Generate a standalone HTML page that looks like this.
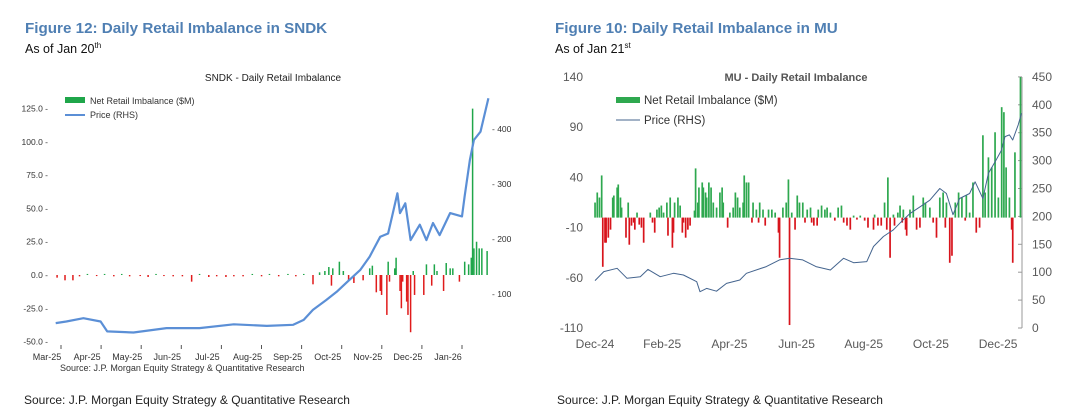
<!DOCTYPE html>
<html><head><meta charset="utf-8"><style>
body{margin:0;background:#fff;}
svg{display:block;font-family:"Liberation Sans",sans-serif;}
</style></head><body>
<svg width="1074" height="411" viewBox="0 0 1074 411">
<text x="25" y="33" font-size="15.2" font-weight="bold" fill="#4f7fb3">Figure 12: Daily Retail Imbalance in SNDK</text>
<text x="25" y="53" font-size="12.5" fill="#111">As of Jan 20<tspan font-size="8" dy="-5">th</tspan></text>
<text x="555" y="33" font-size="15.2" font-weight="bold" fill="#4f7fb3">Figure 10: Daily Retail Imbalance in MU</text>
<text x="555" y="53" font-size="12.5" fill="#111">As of Jan 21<tspan font-size="8" dy="-5">st</tspan></text>
<text x="24" y="404" font-size="12" fill="#222">Source: J.P. Morgan Equity Strategy &amp; Quantitative Research</text>
<text x="557" y="404" font-size="12" fill="#222">Source: J.P. Morgan Equity Strategy &amp; Quantitative Research</text>

<g id="sndk"></g>
<g id="mu"></g>
</svg>
<script>
// ---------- SNDK data (days since Mar 1 2025) ----------
const sndkBarDays = [-3,3,9,14,20,27,33,40,46,52,60,66,72,78,85,92,99,105,112,118,125,131,138,145,152,158,165,172,178,184,191,196,200,203,205,206,211,214,218,222,229,234,236,239,242,243,247,248,249,253,254,257,258,259,262,263,265,267,268,275,277,281,283,285,290,292,295,297,302,306,309,311,312,313,315,317,319,323];
const sndkBarVals = [-2,-4,-4,-1,0.8,-0.8,0.8,-1,0.8,-1,-0.8,-1.5,0.8,-0.8,-1,-1,-5,0.8,-1.5,-1,-1.5,-1,-1,0.8,-1,0.8,-1,0.8,-1,0.8,-7,2,3,6,-8,5,10,3,-4,-6,-4,5,7,-13,-12,-15,-30,10,-5,5,13,-12,-25,-5,-20,-30,-43,3,-15,-15,8,-8,8,3,-12,9,5,5,-5,10,8,13,125,20,25,20,20,18];
const sndkPriceDays = [-4,4,17,30,35,55,80,105,131,156,176,184,191,201,209,217,227,234,238,242,248,251,255,257,261,265,272,277,282,287,295,304,306,310,313,318,324];
const sndkPriceVals = [47,50,56,50,32,30,38,38,45,42,44,53,71,89,104,122,144,168,186,204,210,241,283,247,265,198,226,198,229,207,247,241,277,344,380,395,456];
const sndkLeftTicks = [125,100,75,50,25,0,-25,-50];
const sndkRightTicks = [400,300,200,100];
const sndkMonths = ["Mar-25","Apr-25","May-25","Jun-25","Jul-25","Aug-25","Sep-25","Oct-25","Nov-25","Dec-25","Jan-26"];

// ---------- MU data (days since Dec 1 2024) ----------
const muBarDays = [0,2,4,6,7,9,10,12,14,16,17,20,21,23,24,28,30,31,33,35,36,38,40,42,44,50,52,54,56,58,60,62,65,66,68,70,71,72,75,77,79,80,82,84,86,90,91,93,94,97,98,100,101,103,105,107,110,113,115,116,120,122,125,127,129,131,134,135,137,139,142,143,146,148,149,152,154,157,160,163,166,167,170,173,175,176,178,181,183,185,188,190,192,195,196,198,201,202,205,208,210,213,217,220,223,225,228,231,234,237,240,244,247,252,253,256,259,262,264,265,267,270,271,274,276,278,279,281,282,285,288,291,294,297,299,303,306,309,312,315,317,318,321,323,326,329,332,335,336,339,342,345,348,351,353,356,359,362,365,368,370,372,375,377,378,380,385];
const muBarVals = [15,25,20,42,-49,-25,-25,-20,-12,20,22,30,33,20,10,-20,15,-27,-8,-5,-12,5,-7,-10,-25,5,-5,-15,8,10,12,5,15,-18,20,-30,-15,15,20,12,-15,-5,-20,-12,-8,7,49,15,30,35,30,25,20,35,30,15,10,25,30,15,-10,5,10,25,20,10,15,42,35,35,-5,15,8,-5,15,8,-8,8,8,5,-15,-40,10,15,38,-107,5,-12,22,15,15,-5,8,10,-5,-8,-8,8,12,8,10,5,-3,10,12,-5,-8,-12,2,-2,2,-3,-10,-12,3,-8,-8,15,-12,40,-40,3,-8,5,12,-5,8,-12,-18,8,22,-12,-10,20,15,10,-5,-20,20,25,-10,15,-45,-38,15,25,20,-3,22,5,35,-15,-10,82,25,60,50,85,20,110,105,50,20,-12,-45,65,140];
const muPriceDays = [0,8,20,29,41,48,59,71,80,92,95,101,110,119,131,137,155,167,176,188,200,213,225,234,246,252,261,270,279,285,294,303,312,318,324,330,339,344,351,356,363,368,371,375,378,383,386];
const muPriceVals = [85,101,107,89,92,105,92,98,95,83,65,71,66,80,86,98,110,122,125,122,110,104,125,117,119,146,164,176,194,205,217,229,250,241,203,232,241,262,232,277,301,319,343,346,337,364,385];
const muLeftTicks = [140,90,40,-10,-60,-110];
const muRightTicks = [450,400,350,300,250,200,150,100,50,0];
const muMonths = ["Dec-24","Feb-25","Apr-25","Jun-25","Aug-25","Oct-25","Dec-25"];

const NS = "http://www.w3.org/2000/svg";
function mk(parent, tag, attrs, text){
  const e = document.createElementNS(NS, tag);
  for (const k in attrs) e.setAttribute(k, attrs[k]);
  if (text !== undefined) e.textContent = text;
  parent.appendChild(e);
  return e;
}

// ---------- SNDK chart ----------
(function(){
  const g = document.getElementById('sndk');
  const xS = d => 61 + d * 40.1 / 30.4;
  const yL = v => 275 - v * 1.331;
  const yR = p => 349 - p * 0.55;
  const t = mk(g,'text',{x:273,y:81,'font-size':10,'text-anchor':'middle',fill:'#222'},'SNDK - Daily Retail Imbalance');
  
  
  sndkLeftTicks.forEach(v=>{
    const l = mk(g,'text',{x:48,y:yL(v)+3,'font-size':8.5,'text-anchor':'end',fill:'#333'},v.toFixed(1)+' -');
    
    
  });
  sndkRightTicks.forEach(v=>{
    const l = mk(g,'text',{x:492,y:yR(v)+3,'font-size':8.5,fill:'#333'},'- '+v);
    
    
  });
  sndkMonths.forEach((m,i)=>{
    const x = xS(i*30.4);
    const tk = mk(g,'line',{x1:x,y1:345,x2:x,y2:349,stroke:'#555','stroke-width':1});
    
    
    const l = mk(g,'text',{x:x-14,y:360,'font-size':9,'text-anchor':'middle',fill:'#333'},m);
    
    
  });
  sndkBarDays.forEach((d,i)=>{
    const v = sndkBarVals[i];
    const y0 = yL(0), y1 = yL(v);
    const r = mk(g,'rect',{x:xS(d)-0.7,y:Math.min(y0,y1),width:1.5,height:Math.max(0.8,Math.abs(y1-y0)),fill:v>=0?'#1fa64a':'#e01b1b'});
    
    
  });
  const pts = sndkPriceDays.map((d,i)=>xS(d).toFixed(1)+','+yR(sndkPriceVals[i]).toFixed(1)).join(' ');
  const pl = mk(g,'polyline',{points:pts,fill:'none',stroke:'#5b8fd6','stroke-width':2.2,'stroke-linejoin':'round'});
  
  
  const lp = mk(g,'rect',{x:65,y:97,width:20,height:6,fill:'#1fa64a'});
  
  
  const lt = mk(g,'text',{x:90,y:104,'font-size':9,fill:'#333'},'Net Retail Imbalance ($M)');
  
  
  const ll = mk(g,'line',{x1:65,y1:115,x2:85,y2:115,stroke:'#5b8fd6','stroke-width':2});
  
  
  const lt2 = mk(g,'text',{x:90,y:118,'font-size':9,fill:'#333'},'Price (RHS)');
  
  
  const s = mk(g,'text',{x:60,y:371,'font-size':9,fill:'#333'},'Source: J.P. Morgan Equity Strategy & Quantitative Research');
  
  
})();

// ---------- MU chart ----------
(function(){
  const g = document.getElementById('mu');
  const xS = d => 595 + d * 1.105;
  const yL = v => 217.6 - v * 1.004;
  const yR = p => 328 - p * 0.558;
  const t = mk(g,'text',{x:796,y:81,'font-size':11,'font-weight':'bold','text-anchor':'middle',fill:'#555'},'MU - Daily Retail Imbalance');
  
  
  muLeftTicks.forEach(v=>{
    const l = mk(g,'text',{x:583,y:yL(v)+4,'font-size':12,'text-anchor':'end',fill:'#595959'},String(v));
    
    
  });
  const ax = mk(g,'line',{x1:1022,y1:77,x2:1022,y2:328,stroke:'#999','stroke-width':1});
  
  
  muRightTicks.forEach(v=>{
    const tk = mk(g,'line',{x1:1018,y1:yR(v),x2:1022,y2:yR(v),stroke:'#999','stroke-width':1});
    
    
    const l = mk(g,'text',{x:1032,y:yR(v)+4,'font-size':12,fill:'#595959'},String(v));
    
    
  });
  muMonths.forEach((m,i)=>{
    const l = mk(g,'text',{x:xS(i*60.8),y:348,'font-size':12,'text-anchor':'middle',fill:'#595959'},m);
    
    
  });
  muBarDays.forEach((d,i)=>{
    const v = muBarVals[i];
    const y0 = yL(0), y1 = yL(v);
    const r = mk(g,'rect',{x:xS(d)-0.8,y:Math.min(y0,y1),width:1.7,height:Math.max(0.8,Math.abs(y1-y0)),fill:v>=0?'#2ea84f':'#d8141c'});
    
    
  });
  const pts = muPriceDays.map((d,i)=>xS(d).toFixed(1)+','+yR(muPriceVals[i]).toFixed(1)).join(' ');
  const pl = mk(g,'polyline',{points:pts,fill:'none',stroke:'#44648e','stroke-width':1,'stroke-linejoin':'round'});
  
  
  const lp = mk(g,'rect',{x:616,y:97,width:24,height:6,fill:'#2ea84f'});
  
  
  const lt = mk(g,'text',{x:644,y:104,'font-size':11.5,fill:'#333'},'Net Retail Imbalance ($M)');
  
  
  const ll = mk(g,'line',{x1:616,y1:120,x2:640,y2:120,stroke:'#44648e','stroke-width':1});
  
  
  const lt2 = mk(g,'text',{x:644,y:124,'font-size':11.5,fill:'#333'},'Price (RHS)');
  
  
})();
</script>
</body></html>
